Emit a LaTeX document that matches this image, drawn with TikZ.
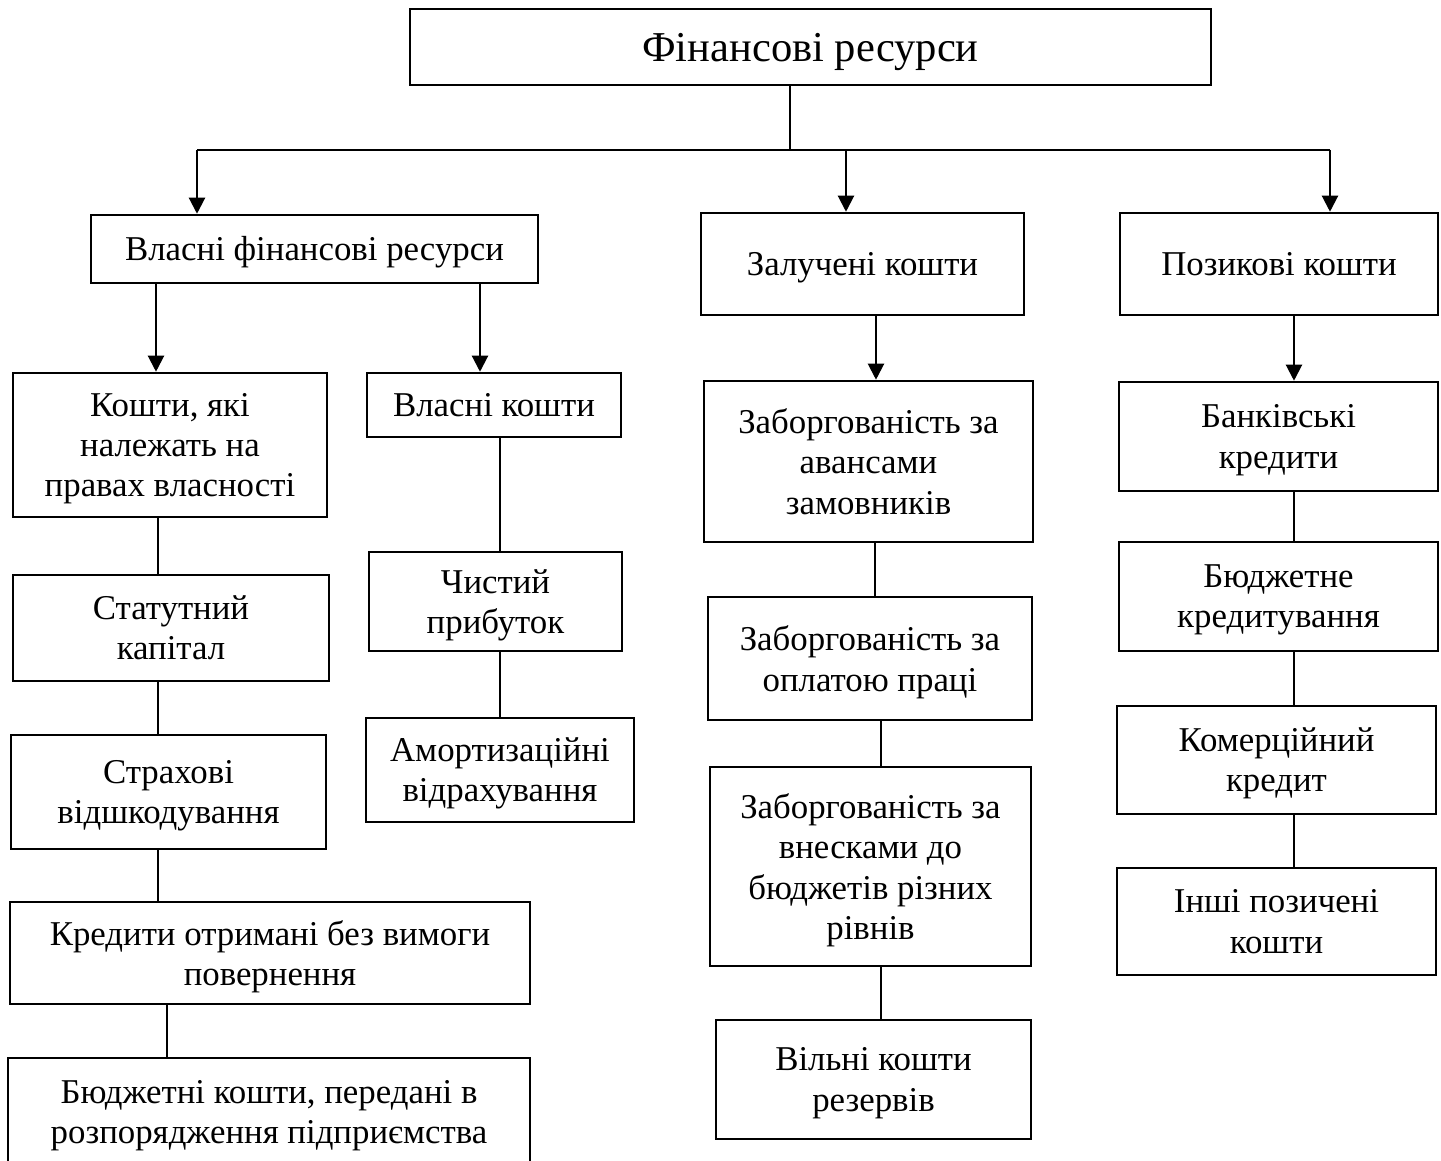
\documentclass[tikz,border=0pt]{standalone}
\usepackage{fontspec}
\setmainfont{Liberation Serif}
\usetikzlibrary{arrows.meta}

\tikzset{
	cell/.style={draw, line width=0.7pt, inner sep=0pt, align=center,
		font=\fontsize{9.9}{11.4}\selectfont},
	box/.style={cell, text depth=0pt},
	box1/.style={cell, execute at begin node={\rule{0pt}{0.95em}},
		execute at end node={\rule[-0.29em]{0pt}{0pt}}},
	arr/.style={line width=0.6pt, -{Triangle[length=1.6mm,width=1.6mm]}},
	ln/.style={line width=0.35pt}
}

\begin{document}
\begin{tikzpicture}[x=0.01cm, y=-0.01cm]
	\useasboundingbox (0,0) rectangle (1441,1161);
	% top
	\node[box1, minimum width=8.01cm, minimum height=0.76cm, font=\fontsize{12.1}{14}\selectfont] (fin) at (810.5,47) {Фінансові ресурси};
	\node[box1, minimum width=4.47cm, minimum height=0.68cm] (own) at (314.5,249) {Власні фінансові ресурси};
	\node[box1, minimum width=3.23cm, minimum height=1.02cm] (attr) at (862.5,264) {Залучені кошти};
	\node[box1, minimum width=3.18cm, minimum height=1.02cm] (loan) at (1279,264) {Позикові кошти};
	% left
	\node[box, minimum width=3.14cm, minimum height=1.44cm] (kv) at (170,445) {Кошти, які\\належать на\\правах власності};
	\node[box, minimum width=3.16cm, minimum height=1.06cm] (stat) at (171,628) {Статутний\\капітал};
	\node[box, minimum width=3.15cm, minimum height=1.14cm] (strah) at (168.5,792) {Страхові\\відшкодування};
	\node[box, minimum width=5.20cm, minimum height=1.02cm] (kred) at (270,953) {Кредити отримані без вимоги\\повернення};
	\node[box, minimum width=5.22cm, minimum height=1.08cm] (budz) at (269,1112) {Бюджетні кошти, передані в\\розпорядження підприємства};
	\node[box1, minimum width=2.54cm, minimum height=0.64cm] (vk) at (494,405) {Власні кошти};
	\node[box, minimum width=2.53cm, minimum height=0.99cm] (chp) at (495.5,601.5) {Чистий\\прибуток};
	\node[box, minimum width=2.68cm, minimum height=1.04cm] (amort) at (500,770) {Амортизаційні\\відрахування};
	% middle
	\node[box, minimum width=3.29cm, minimum height=1.61cm] (z1) at (868.5,461.5) {Заборгованість за\\авансами\\замовників};
	\node[box, minimum width=3.24cm, minimum height=1.23cm] (z2) at (870,658.5) {Заборгованість за\\оплатою праці};
	\node[box, minimum width=3.21cm, minimum height=1.99cm] (z3) at (870.5,866.5) {Заборгованість за\\внесками до\\бюджетів різних\\рівнів};
	\node[box, minimum width=3.15cm, minimum height=1.19cm] (z4) at (873.5,1079.5) {Вільні кошти\\резервів};
	% right
	\node[box, minimum width=3.19cm, minimum height=1.09cm] (p1) at (1278.5,436.5) {Банківські\\кредити};
	\node[box, minimum width=3.19cm, minimum height=1.09cm] (p2) at (1278.5,596.5) {Бюджетне\\кредитування};
	\node[box, minimum width=3.19cm, minimum height=1.08cm] (p3) at (1276.5,760) {Комерційний\\кредит};
	\node[box, minimum width=3.19cm, minimum height=1.07cm] (p4) at (1276.5,921.5) {Інші позичені\\кошти};

	\coordinate (br) at (790,150);
	\coordinate (brL) at (197,150);
	\coordinate (brM) at (846,150);
	\coordinate (brR) at (1330,150);
	\draw[ln] (fin.south -| br) -- (br);
	\draw[ln] (brL) -- (brR);
	\draw[arr] (brL) -- (own.north -| brL);
	\draw[arr] (brM) -- (attr.north -| brM);
	\draw[arr] (brR) -- (loan.north -| brR);

	\draw[arr] (own.south -| 156,0) -- (kv.north -| 156,0);
	\draw[arr] (own.south -| 480,0) -- (vk.north -| 480,0);
	\draw[arr] (attr.south -| 876,0) -- (z1.north -| 876,0);
	\draw[arr] (loan.south -| 1294,0) -- (p1.north -| 1294,0);

	\draw[ln] (kv.south -| 158,0) -- (stat.north -| 158,0);
	\draw[ln] (stat.south -| 158,0) -- (strah.north -| 158,0);
	\draw[ln] (strah.south -| 158,0) -- (kred.north -| 158,0);
	\draw[ln] (kred.south -| 167,0) -- (budz.north -| 167,0);
	\draw[ln] (vk.south -| 500,0) -- (chp.north -| 500,0);
	\draw[ln] (chp.south -| 500,0) -- (amort.north -| 500,0);
	\draw[ln] (z1.south -| 875,0) -- (z2.north -| 875,0);
	\draw[ln] (z2.south -| 881,0) -- (z3.north -| 881,0);
	\draw[ln] (z3.south -| 881,0) -- (z4.north -| 881,0);
	\draw[ln] (p1.south -| 1294,0) -- (p2.north -| 1294,0);
	\draw[ln] (p2.south -| 1294,0) -- (p3.north -| 1294,0);
	\draw[ln] (p3.south -| 1294,0) -- (p4.north -| 1294,0);
\end{tikzpicture}
\end{document}
